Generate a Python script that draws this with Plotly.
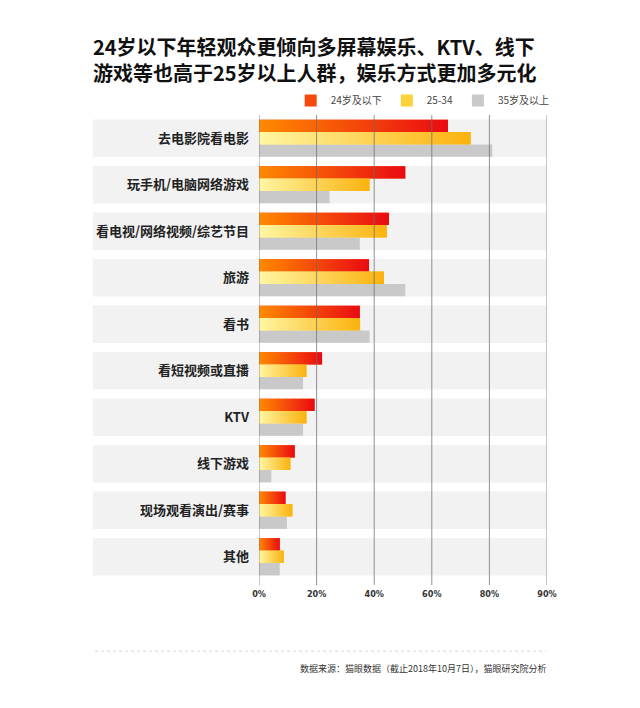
import plotly.graph_objects as go

# ---------------- data ----------------
categories = ["去电影院看电影", "玩手机/电脑网络游戏", "看电视/网络视频/综艺节目", "旅游", "看书",
              "看短视频或直播", "KTV", "线下游戏", "现场观看演出/赛事", "其他"]
series_names = ["24岁及以下", "25-34", "35岁及以上"]
under24 = [65.6, 50.8, 45.1, 38.2, 35.0, 21.9, 19.3, 12.4, 9.2, 7.2]
age25_34 = [73.5, 38.4, 44.4, 43.4, 35.1, 16.5, 16.5, 10.9, 11.6, 8.6]
over35 = [81.0, 24.5, 35.0, 50.8, 38.4, 15.3, 15.3, 4.3, 9.7, 7.2]
tick_values = [0, 20, 40, 60, 80, 100]
tick_labels = ["0%", "20%", "40%", "60%", "80%", "90%"]

title_text = "24岁以下年轻观众更倾向多屏幕娱乐、KTV、线下<br>游戏等也高于25岁以上人群，娱乐方式更加多元化"
source_text = "数据来源：猫眼数据（截止2018年10月7日），猫眼研究院分析"

# ---------------- style ----------------
solid_colors = ["#f5480a", "#fcd23a", "#c9c9c9"]
gradients = [
    [[0, "#ff8a00"], [1, "#ea0a12"]],
    [[0, "#fff6a3"], [1, "#fbb20e"]],
    None,
]
group = 0.8
bw = group / 3
offsets = [-group / 2, -group / 2 + bw, -group / 2 + 2 * bw]
ypos = list(range(len(categories)))
all_series = [under24, age25_34, over35]

fig = go.Figure()

# base bars (legend + hover)
for name, vals, col, off in zip(series_names, all_series, solid_colors, offsets):
    fig.add_trace(go.Bar(
        y=ypos, x=vals, orientation="h", name=name,
        marker=dict(color=col, line=dict(width=0)),
        width=bw, offset=off,
        hovertemplate="%{x}%<extra>" + name + "</extra>",
    ))

# gradient overlays for the coloured series
for vals, grad, off in zip(all_series, gradients, offsets):
    if grad is None:
        continue
    for yi, v in zip(ypos, vals):
        y0 = yi + off
        y1 = yi + off + bw
        fig.add_trace(go.Scatter(
            x=[0, v, v, 0, 0], y=[y0, y0, y1, y1, y0],
            mode="lines", fill="toself", line=dict(width=0),
            fillgradient=dict(type="horizontal", colorscale=grad),
            showlegend=False, hoverinfo="skip",
        ))

shapes = []
# row background bands
for yi in ypos:
    shapes.append(dict(type="rect", xref="paper", yref="y",
                       x0=-0.577, x1=0.999, y0=yi - group / 2 - 0.005, y1=yi + group / 2 + 0.005,
                       fillcolor="#f2f2f2", line=dict(width=0), layer="below"))
# vertical grid lines drawn over the bars
for tv in tick_values:
    shapes.append(dict(type="line", xref="x", yref="paper", x0=tv, x1=tv, y0=-0.011, y1=1.0,
                       line=dict(color="rgba(110,110,110,0.75)", width=1), layer="above"))
# dotted separator above the source
shapes.append(dict(type="line", xref="paper", yref="paper", x0=-0.569, x1=0.998,
                   y0=-0.153, y1=-0.153, line=dict(color="#d6d6d6", width=1, dash="dot")))

fig.update_layout(
    width=632, height=700,
    margin=dict(l=251, r=93, t=107, b=128),
    paper_bgcolor="white", plot_bgcolor="rgba(0,0,0,0)",
    barmode="overlay",
    font=dict(family="Noto Sans CJK SC, Noto Sans, sans-serif", color="#222"),
    title=dict(text=title_text, x=85 / 632, xanchor="left", xref="container",
               y=0.933, yanchor="top", yref="container",
               font=dict(size=20, color="#111", family="Noto Sans CJK SC", weight="bold")),
    showlegend=True,
    legend=dict(orientation="h", x=0.11, xanchor="left", y=1.031, yanchor="middle",
                font=dict(size=10, color="#444"), bgcolor="rgba(0,0,0,0)",
                traceorder="normal", itemclick=False),
    xaxis=dict(range=[0, 100], tickvals=tick_values, ticktext=tick_labels,
               showgrid=False, zeroline=False, showline=False, ticks="",
               tickfont=dict(size=9, color="#333", family="DejaVu Sans Condensed, Liberation Sans Narrow", weight="bold"),
               ticklabelstandoff=7, fixedrange=True),
    yaxis=dict(range=[len(categories) - 0.5, -0.5], tickvals=ypos, ticktext=categories,
               showgrid=False, zeroline=False, showline=False, ticks="",
               tickfont=dict(size=13, color="#222", weight="bold"), ticklabelstandoff=9, fixedrange=True),
    shapes=shapes,
    annotations=[dict(text=source_text, xref="paper", yref="paper", x=1.003, y=-0.1896,
                      xanchor="right", yanchor="middle", showarrow=False,
                      font=dict(size=9, color="#333"))],
)

fig.write_html("out.html")
